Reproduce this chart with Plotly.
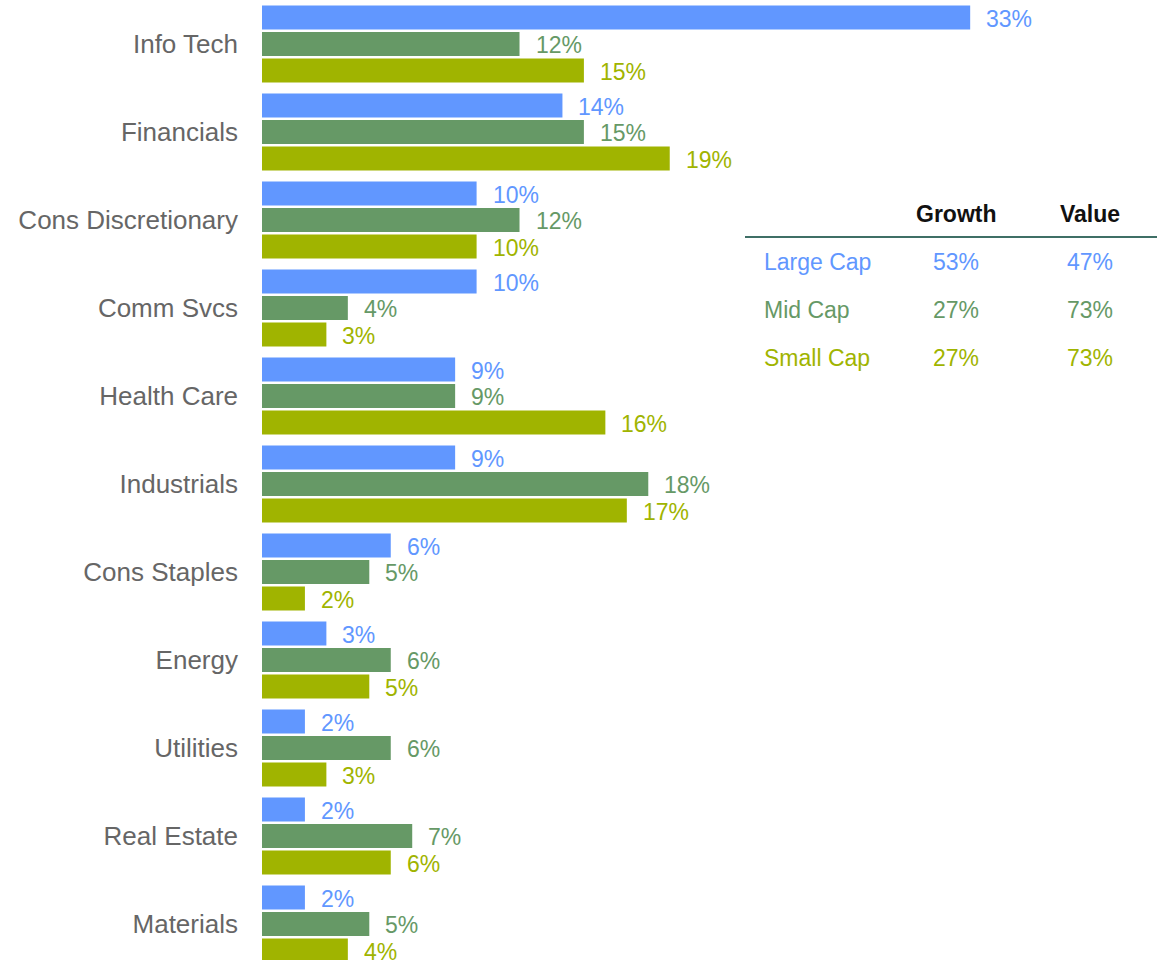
import plotly.graph_objects as go

# Sector weights (%) by market-cap segment
sectors = ["Info Tech", "Financials", "Cons Discretionary", "Comm Svcs", "Health Care",
           "Industrials", "Cons Staples", "Energy", "Utilities", "Real Estate", "Materials"]
large_cap = [33, 14, 10, 10, 9, 9, 6, 3, 2, 2, 2]
mid_cap = [12, 15, 12, 4, 9, 18, 5, 6, 6, 7, 5]
small_cap = [15, 19, 10, 3, 16, 17, 2, 5, 3, 6, 4]

# Growth / value split by segment
segments = ["Large Cap", "Mid Cap", "Small Cap"]
growth_share = [53, 27, 27]
value_share = [47, 73, 73]
table_headers = ["Growth", "Value"]

colors = ["#6197FF", "#669966", "#A0B400"]
FONT = "Arial, Liberation Sans, sans-serif"

W, H = 1163, 960
L = 262
PX_PER_PCT = 21.46

fig = go.Figure()
series = [("Large Cap", large_cap), ("Mid Cap", mid_cap), ("Small Cap", small_cap)]
for (name, vals), c in zip(series, colors):
    fig.add_trace(go.Bar(y=sectors, x=vals, orientation="h", name=name,
                         marker=dict(color=c, line=dict(width=0)),
                         hoverinfo="x+y"))

# Value labels to the right of each bar
annotations = []
shifts = [26.5, 0, -26.5]
for (name, vals), c, s in zip(series, colors, shifts):
    for cat, v in zip(sectors, vals):
        annotations.append(dict(x=v, y=cat, xref="x", yref="y", text=f"{v}%",
                                showarrow=False, xanchor="left", yanchor="middle",
                                xshift=14, yshift=s - 1,
                                font=dict(family=FONT, size=23, color=c)))

# Growth / value table in the upper right
def px_x(p):
    return (p - L) / (W - L)

def px_y(p):
    return 1 - p / H

col_x = [956, 1090]
for hx, h in zip(col_x, table_headers):
    annotations.append(dict(x=px_x(hx), y=px_y(214), xref="paper", yref="paper",
                            text=f"<b>{h}</b>", showarrow=False,
                            xanchor="center", yanchor="middle",
                            font=dict(family=FONT, size=23, color="#111111")))
row_y = [262, 310, 358]
for ry, seg, g, v, c in zip(row_y, segments, growth_share, value_share, colors):
    annotations.append(dict(x=px_x(762), y=px_y(ry), xref="paper", yref="paper",
                            text=seg, showarrow=False, xanchor="left", yanchor="middle",
                            font=dict(family=FONT, size=23, color=c)))
    for cx, val in zip(col_x, [g, v]):
        annotations.append(dict(x=px_x(cx), y=px_y(ry), xref="paper", yref="paper",
                                text=f"{val}%", showarrow=False,
                                xanchor="center", yanchor="middle",
                                font=dict(family=FONT, size=23, color=c)))

fig.update_layout(
    width=W, height=H,
    margin=dict(l=L, r=0, t=0, b=0),
    paper_bgcolor="white", plot_bgcolor="white",
    barmode="group", bargap=0.097, bargroupgap=0.093,
    showlegend=False,
    annotations=annotations,
    shapes=[dict(type="line", xref="paper", yref="paper",
                 x0=px_x(745), x1=px_x(1157), y0=px_y(237), y1=px_y(237),
                 line=dict(color="#3F6F66", width=2))],
    xaxis=dict(range=[0, (W - L) / PX_PER_PCT], visible=False, fixedrange=True),
    yaxis=dict(range=[H / 88 - 0.5, -0.5], showgrid=False, zeroline=False,
               showline=False, ticks="", ticklabelstandoff=23,
               tickfont=dict(family=FONT, size=26, color="#666666"),
               fixedrange=True),
)

fig.write_html("out.html")
